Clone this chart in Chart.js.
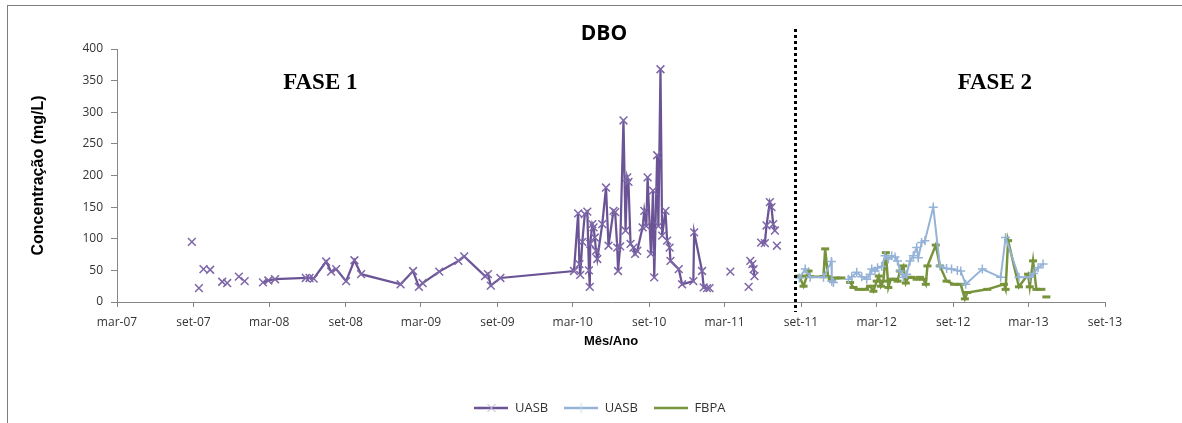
<!DOCTYPE html>
<html>
<head>
<meta charset="utf-8">
<script src="https://cdn.jsdelivr.net/npm/chart.js@4.4.1/dist/chart.umd.min.js"></script>
<style>
  html, body { margin: 0; padding: 0; background: #fff; }
  #wrap { position: relative; width: 1182px; height: 423px; overflow: hidden; }
  #frame { position: absolute; left: 7px; top: 5px; width: 1200px; height: 440px;
           border: 1px solid #7f7f7f; box-sizing: border-box; pointer-events: none; }
</style>
</head>
<body>
<div id="wrap">
  <canvas id="chart" width="1182" height="423"></canvas>
  <div id="frame"></div>
</div>
<script>
// eixo x: rótulos a cada 6 meses
const tickDates = ["2007-03-01", "2007-09-01", "2008-03-01", "2008-09-01", "2009-03-01", "2009-09-01",
  "2010-03-01", "2010-09-01", "2011-03-01", "2011-09-01", "2012-03-01", "2012-09-01", "2013-03-01", "2013-09-01"];
const tickLabels = ["mar-07", "set-07", "mar-08", "set-08", "mar-09", "set-09",
  "mar-10", "set-10", "mar-11", "set-11", "mar-12", "set-12", "mar-13", "set-13"];

const chartTitle = "DBO";
const phaseLabels = ["FASE 1", "FASE 2"];
const phaseLabelDates = ["2008-07-02", "2012-12-10"];
const phaseLabelLevel = 346;
const phaseSplit = "2011-08-18";

// UASB - fase 1 (null = sem ligação entre pontos)
const uasb1Dates = [
  "2007-08-28", "2007-09-05", "2007-09-14", "2007-09-20", "2007-09-25", "2007-10-01", "2007-10-11",
  "2007-10-25", "2007-11-09", "2007-11-15", "2007-11-21", "2007-12-05", "2007-12-19", "2007-12-25",
  "2008-01-02", "2008-01-20",
  "2008-02-15", "2008-02-28", "2008-03-15", "2008-05-28", "2008-06-06", "2008-06-16", "2008-07-16",
  "2008-07-28", "2008-08-09", "2008-09-02", "2008-09-22", "2008-10-08", "2009-01-11", "2009-02-10",
  "2009-02-24", "2009-03-05", "2009-04-14", "2009-05-30", "2009-06-13", "2009-08-02", "2009-08-09",
  "2009-08-16", "2009-09-08", "2010-03-04", "2010-03-14", "2010-03-17", "2010-03-19", "2010-03-24",
  "2010-03-30", "2010-04-05", "2010-04-09", "2010-04-11", "2010-04-12", "2010-04-17", "2010-04-20",
  "2010-04-23", "2010-04-26", "2010-04-29", "2010-05-11", "2010-05-20", "2010-05-26", "2010-06-07",
  "2010-06-11", "2010-06-16", "2010-06-18", "2010-06-23", "2010-07-01", "2010-07-06", "2010-07-10",
  "2010-07-13", "2010-07-18", "2010-07-25", "2010-07-29", "2010-08-03", "2010-08-16", "2010-08-20",
  "2010-08-25", "2010-08-28", "2010-09-05", "2010-09-10", "2010-09-13", "2010-09-20", "2010-09-23",
  "2010-09-28", "2010-10-02", "2010-10-10", "2010-10-14", "2010-10-20", "2010-10-22", "2010-11-11",
  "2010-11-19", "2010-12-16", "2010-12-18", "2011-01-06", "2011-01-10", "2011-01-18", "2011-01-24",
  "2011-02-20", "2011-03-15", "2011-04-10", "2011-04-28", "2011-04-30",
  "2011-05-02", "2011-05-07", "2011-05-10", "2011-05-12", "2011-05-20",
  "2011-05-28", "2011-06-06", "2011-06-10", "2011-06-18", "2011-06-22", "2011-06-26", "2011-06-30",
  "2011-07-02", "2011-07-05"
];
const uasb1Values = [
  95, null, 22, null, 52, null, 51,
  null, 32, null, 30, null, 40, null,
  33, null,
  31, 34, 36, 38, 38, 37, 64,
  48, 52, 33, 66, 44, 28, 49,
  24, 30, 48, 65, 72, 41, 44,
  26, 38, 49, 140, 60, 43, 95,
  139, 143, 50, 24, 92, 123, 118,
  102, 81, 68, 123, 181, 89, 144,
  142, 86, 49, 88, 287, 113, 197,
  190, 92, 86, 76, 81, 118, 144,
  120, 197, 76, 176, 39, 232, 120,
  368, 105, 144, 97, 86, 65, 52,
  28, 33, 110, 49, 23, 22, 22,
  null, 48, null, 24, null,
  65, 60, 52, 41, null,
  94, 93, 121, 158, 150, 123, 113,
  null, 89
];

// UASB - fase 2
const uasb2Dates = [
  "2011-08-28", "2011-09-11", "2011-09-23", "2011-10-25", "2011-11-13", "2011-11-14", "2011-11-18",
  "2011-12-10",
  "2011-12-24", "2012-01-01", "2012-01-13", "2012-01-25", "2012-02-06", "2012-02-14", "2012-02-18",
  "2012-02-26", "2012-03-03", "2012-03-13", "2012-03-21", "2012-03-29", "2012-04-06", "2012-04-14",
  "2012-04-20", "2012-04-26", "2012-05-04", "2012-05-12", "2012-05-20", "2012-05-28", "2012-06-05",
  "2012-06-09", "2012-06-17", "2012-06-25", "2012-07-15", "2012-07-31", "2012-08-16", "2012-08-28",
  "2012-09-11", "2012-09-19", "2012-10-01", "2012-11-10", "2012-12-24", "2013-01-05", "2013-02-06",
  "2013-03-04", "2013-03-13", "2013-03-24", "2013-04-05"
];
const uasb2Values = [
  38, 52, 39, 39, 64, 33, 31,
  null,
  36, 40, 47, 40, 36, 44, 52,
  49, 54, 56, 73, 68, 73, 71,
  65, 49, 39, 44, 65, 73, 86,
  70, 94, 97, 150, 57, 53, 52,
  50, 49, 28, 52, 39, 102, 39,
  39, 45, 54, 60
];

// FBPA - fase 2
const fbpaDates = [
  "2011-08-28", "2011-09-07", "2011-09-15", "2011-09-19", "2011-09-23", "2011-10-25", "2011-10-29",
  "2011-11-05", "2011-11-14", "2011-11-22", "2011-12-07", "2011-12-15",
  "2011-12-28", "2012-01-05", "2012-01-17", "2012-02-02", "2012-02-14", "2012-02-22", "2012-03-01",
  "2012-03-06", "2012-03-11", "2012-03-17", "2012-03-23", "2012-03-29", "2012-04-04", "2012-04-14",
  "2012-04-20", "2012-04-26", "2012-05-04", "2012-05-10", "2012-05-16", "2012-05-24", "2012-06-05",
  "2012-06-13", "2012-06-21", "2012-06-27", "2012-07-01", "2012-07-21", "2012-07-31", "2012-08-16",
  "2012-09-03", "2012-09-19", "2012-09-29", "2012-10-05", "2012-11-22", "2013-01-01", "2013-01-05",
  "2013-01-11", "2013-02-06", "2013-02-28", "2013-03-04", "2013-03-12", "2013-03-20", "2013-04-01",
  "2013-04-07", "2013-04-13"
];
const fbpaValues = [
  41, 25, 41, 49, 40, 40, 84,
  40, 36, 38, 38, null,
  31, 23, 20, 20, 25, 17, 33,
  41, 25, 33, 78, 23, 36, 36,
  33, 49, 57, 30, 39, 39, 36,
  39, 36, 28, 57, 90, 57, 33,
  28, 28, 5, 15, 20, 28, 20,
  97, 24, 44, 24, 65, 20, 20,
  null, 8
];

const purple = "#6B5495";
const blue = "#95B3D7";
const green = "#77933C";

function toPoints(dates, values) {
  return dates.map((d, i) => ({ x: Date.parse(d), y: values[i] }));
}

// amostra do legend: linha com o marcador no meio
function legendSwatch(color, markColor, mark) {
  const c = document.createElement("canvas");
  c.width = 34;
  c.height = 12;
  const g = c.getContext("2d");
  g.strokeStyle = color;
  g.lineWidth = 2.5;
  g.beginPath();
  g.moveTo(0, 6);
  g.lineTo(34, 6);
  g.stroke();
  g.strokeStyle = markColor;
  g.lineWidth = 1;
  g.beginPath();
  if (mark === "crossRot") {
    g.moveTo(13, 2); g.lineTo(21, 10);
    g.moveTo(21, 2); g.lineTo(13, 10);
  } else if (mark === "cross") {
    g.moveTo(17, 1); g.lineTo(17, 11);
  }
  g.stroke();
  return c;
}
const swatches = [
  legendSwatch(purple, "#B9A9D2", "crossRot"),
  legendSwatch(blue, "#C9D8EA", "cross"),
  legendSwatch(green, green, "none"),
];

const notes = {
  id: "notes",
  afterLayout(chart) {
    // legenda fica mais abaixo, centrada como no original
    const lg = chart.legend;
    const dy = 405 - (lg.top + lg.bottom) / 2;
    const dx = 600 - (lg.left + lg.right) / 2;
    lg.top += dy; lg.bottom += dy;
    lg.left += dx; lg.right += dx;
  },
  afterDraw(chart) {
    const { ctx, chartArea, scales } = chart;
    const x = scales.x, y = scales.y;
    ctx.save();
    const sx = Math.round(x.getPixelForValue(Date.parse(phaseSplit))) + 0.5;
    ctx.strokeStyle = "#000";
    ctx.lineWidth = 3;
    ctx.setLineDash([3, 3]);
    ctx.beginPath();
    ctx.moveTo(sx, chartArea.top - 20);
    ctx.lineTo(sx, chartArea.bottom + 10);
    ctx.stroke();
    ctx.setLineDash([]);

    ctx.fillStyle = "#000";
    ctx.textAlign = "center";
    ctx.textBaseline = "middle";
    ctx.font = "bold 21px 'Open Sans', sans-serif";
    ctx.fillText(chartTitle, 604, 34);
    ctx.font = "bold 23px 'Liberation Serif', serif";
    phaseLabels.forEach((t, i) => {
      ctx.fillText(t, x.getPixelForValue(Date.parse(phaseLabelDates[i])), y.getPixelForValue(phaseLabelLevel));
    });
    ctx.restore();
  }
};

const ctx = document.getElementById("chart").getContext("2d");
new Chart(ctx, {
  type: "line",
  data: {
    datasets: [
      {
        label: "UASB",
        data: toPoints(uasb1Dates, uasb1Values),
        borderColor: purple,
        backgroundColor: purple,
        borderWidth: 2.25,
        pointStyle: "crossRot",
        pointRadius: 5.5,
        pointBorderWidth: 1.5,
        pointBorderColor: "#7E67A8",
      },
      {
        label: "UASB",
        data: toPoints(uasb2Dates, uasb2Values),
        borderColor: blue,
        backgroundColor: blue,
        borderWidth: 2,
        pointStyle: "cross",
        pointRadius: 4.5,
        pointBorderWidth: 1.5,
        pointBorderColor: blue,
      },
      {
        label: "FBPA",
        data: toPoints(fbpaDates, fbpaValues),
        borderColor: green,
        backgroundColor: green,
        borderWidth: 2.5,
        pointStyle: "line",
        pointRadius: 4,
        pointBorderWidth: 3,
        pointBorderColor: green,
      },
    ],
  },
  options: {
    responsive: false,
    animation: false,
    spanGaps: false,
    layout: { padding: { left: 26, right: 77, top: 49, bottom: 35 } },
    scales: {
      x: {
        type: "linear",
        min: Date.parse(tickDates[0]),
        max: Date.parse(tickDates[tickDates.length - 1]),
        afterBuildTicks: (scale) => {
          scale.ticks = tickDates.map((d) => ({ value: Date.parse(d) }));
        },
        afterFit: (scale) => { scale.height = 47; },
        ticks: {
          autoSkip: false,
          maxRotation: 0,
          padding: 8,
          color: "#333",
          font: { family: "'Open Sans', sans-serif", size: 12 },
          callback: (v, i) => tickLabels[i],
        },
        grid: { drawOnChartArea: false, drawTicks: true, tickLength: 5, color: "#868686" },
        border: { color: "#868686", width: 1 },
        title: {
          display: true,
          text: "Mês/Ano",
          color: "#000",
          font: { family: "'Liberation Sans', Arial, sans-serif", size: 13, weight: "bold" },
          padding: { top: 0, bottom: 0 },
        },
      },
      y: {
        min: 0,
        max: 400,
        afterFit: (scale) => { scale.width = 91; },
        ticks: {
          stepSize: 50,
          padding: 8,
          color: "#333",
          font: { family: "'Open Sans', sans-serif", size: 12 },
        },
        grid: { drawOnChartArea: false, drawTicks: true, tickLength: 6, color: "#868686" },
        border: { color: "#868686", width: 1 },
        title: {
          display: true,
          text: "Concentração (mg/L)",
          color: "#000",
          font: { family: "'Liberation Sans', Arial, sans-serif", size: 16, weight: "bold" },
          padding: { top: 3, bottom: 0 },
        },
      },
    },
    plugins: {
      title: { display: false },
      tooltip: { enabled: false },
      legend: {
        position: "bottom",
        labels: {
          usePointStyle: true,
          pointStyleWidth: 34,
          padding: 16,
          color: "#333",
          font: { family: "'Open Sans', sans-serif", size: 13 },
          generateLabels: (chart) => {
            const items = Chart.defaults.plugins.legend.labels.generateLabels(chart);
            items.forEach((it, i) => { it.pointStyle = swatches[i]; });
            return items;
          },
        },
      },
    },
  },
  plugins: [notes],
});
</script>
</body>
</html>
